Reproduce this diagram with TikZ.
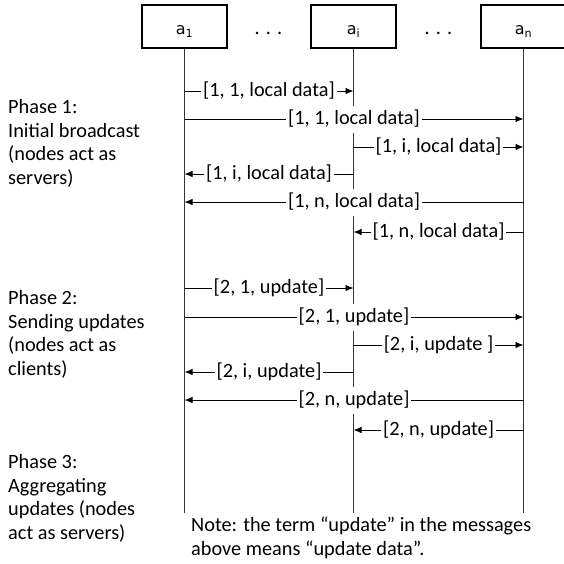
\documentclass[tikz,border=0pt]{standalone}
\usepackage{fontspec}
\setmainfont{Carlito}
\newfontfamily\boxfont{DejaVu Sans}
\usetikzlibrary{arrows.meta}
\begin{document}
\begin{tikzpicture}[x=1pt,y=-1pt,
  actor/.style={draw, line width=1.2pt, minimum width=85pt, minimum height=43pt, inner sep=0pt, text height=18pt, text depth=2pt, font=\boxfont\fontsize{16}{19}\selectfont},
  life/.style={line width=0.9pt, draw=black!80},
  msg/.style={line width=0.9pt, -{Latex[length=8pt,width=6.5pt]}},
  lbl/.style={fill=white, inner xsep=2pt, inner ysep=0pt, minimum height=27pt, font=\fontsize{20.3}{23.7}\selectfont},
  phase/.style={align=left, anchor=north west, inner sep=0pt, font=\fontsize{20.3}{23.7}\selectfont},
  dots/.style={anchor=base, inner sep=0pt, font=\fontsize{20.3}{23.7}\selectfont}
]
\useasboundingbox (0,0) rectangle (564,563);
% actors
\node[actor] (a1) at (184.5,26.5) {a\textsubscript{1}};
\node[actor] (ai) at (353.5,26.5) {a\textsubscript{i}};
\node[actor] (an) at (523.5,26.5) {a\textsubscript{n}};
\node[dots] (d1) at (268.5,34) {. . .};
\node[dots] (d2) at (438.5,34) {. . .};
% lifelines
\coordinate (bot) at (0,513);
\draw[life] (a1.south) -- (a1.south |- bot);
\draw[life] (ai.south) -- (ai.south |- bot);
\draw[life] (an.south) -- (an.south |- bot);
% rows
\coordinate (r1) at (0,91);
\coordinate (r2) at (0,119);
\coordinate (r3) at (0,147);
\coordinate (r4) at (0,174);
\coordinate (r5) at (0,202);
\coordinate (r6) at (0,232);
\coordinate (r7) at (0,288);
\coordinate (r8) at (0,317);
\coordinate (r9) at (0,345);
\coordinate (r10) at (0,372);
\coordinate (r11) at (0,400);
\coordinate (r12) at (0,430);
% phase 1 messages
\draw[msg] (a1 |- r1) -- node[lbl] {[1, 1, local data]} (ai |- r1);
\draw[msg] (a1 |- r2) -- node[lbl] {[1, 1, local data]} (an |- r2);
\draw[msg] (ai |- r3) -- node[lbl] {[1, i, local data]} (an |- r3);
\draw[msg] (ai |- r4) -- node[lbl] {[1, i, local data]} (a1 |- r4);
\draw[msg] (an |- r5) -- node[lbl] {[1, n, local data]} (a1 |- r5);
\draw[msg] (an |- r6) -- node[lbl] {[1, n, local data]} (ai |- r6);
% phase 2 messages
\draw[msg] (a1 |- r7) -- node[lbl] {[2, 1, update]} (ai |- r7);
\draw[msg] (a1 |- r8) -- node[lbl] {[2, 1, update]} (an |- r8);
\draw[msg] (ai |- r9) -- node[lbl] {[2, i, update ]} (an |- r9);
\draw[msg] (ai |- r10) -- node[lbl] {[2, i, update]} (a1 |- r10);
\draw[msg] (an |- r11) -- node[lbl] {[2, n, update]} (a1 |- r11);
\draw[msg] (an |- r12) -- node[lbl] {[2, n, update]} (ai |- r12);
% phase texts
\node[phase] (p1) at (8,99) {Phase 1:\\Initial broadcast\\(nodes act as\\servers)};
\node[phase] (p2) at (8,290) {Phase 2:\\Sending updates\\(nodes act as\\clients)};
\node[phase] (p3) at (8,454) {Phase 3:\\Aggregating\\updates (nodes\\act as servers)};
\node[phase] (note) at (191,517) {Note: the term “update” in the messages\\above means “update data”.};
\end{tikzpicture}
\end{document}
